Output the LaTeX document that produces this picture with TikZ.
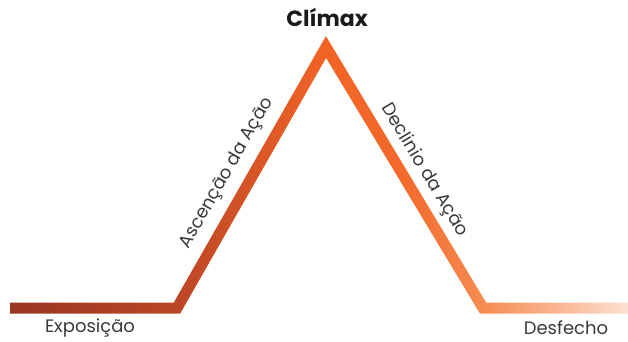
\documentclass[tikz,border=0pt]{standalone}
\usepackage{fontspec}
\setmainfont{Poppins}
\usetikzlibrary{calc}
\definecolor{txt}{HTML}{3A3A3A}
\definecolor{ttl}{HTML}{1A1A1A}
\definecolor{cA}{RGB}{152,54,34}
\definecolor{cB}{RGB}{188,70,38}
\definecolor{cC}{RGB}{242,100,38}
\definecolor{cD}{RGB}{246,140,82}
\definecolor{cE}{RGB}{252,224,208}
\pgfdeclarehorizontalshading{arcgrad}{100bp}{%
  color(0bp)=(cA);
  color(25bp)=(cA);
  color(38.6bp)=(cB);
  color(50.6bp)=(cC);
  color(57bp)=(cC!85!cD);
  color(63.3bp)=(cD);
  color(75bp)=(cE);
  color(100bp)=(cE)}
\tikzset{
  lbl/.style={font=\fontsize{18}{21}\selectfont, text=txt, inner sep=0pt},
  ttlstyle/.style={font=\fontsize{22}{25}\selectfont\bfseries, text=ttl, inner sep=0pt}
}
\begin{document}
\begin{tikzpicture}[x=1pt,y=-1pt]
\useasboundingbox (0,0) rectangle (628,341);
\coordinate (A) at (10,308);
\coordinate (B) at (177,308);
\coordinate (C) at (326,47);
\coordinate (D) at (483,308);
\coordinate (E) at (628,308);
\shade[shading=arcgrad]
  (10,302.5) -- (173.8,302.5) -- (325.9,36.1) -- (486.1,302.5) -- (628,302.5)
  -- (628,313.5) -- (479.9,313.5) -- (326.1,57.9) -- (180.2,313.5) -- (10,313.5) -- cycle;
\node[ttlstyle] (climax) at (327,17) {Clímax};
\node[lbl] (expo) at (90,328) {Exposição};
\node[lbl] (desf) at (566,328) {Desfecho};
\node[lbl, rotate=60.3] (asc) at (227,173) {Ascenção da Ação};
\node[lbl, rotate=-58.97] (dec) at (424,170) {Declinio da Ação};
\end{tikzpicture}
\end{document}
